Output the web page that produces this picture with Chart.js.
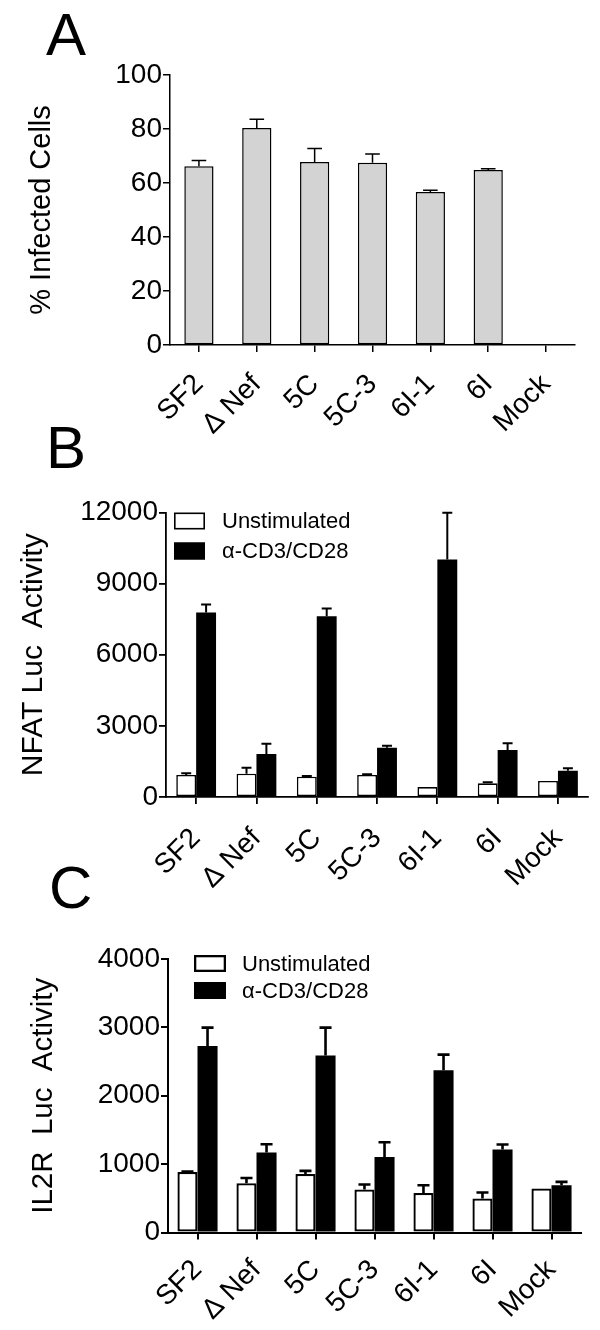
<!DOCTYPE html>
<html>
<head>
<meta charset="utf-8">
<script src="https://cdn.jsdelivr.net/npm/chart.js@4.4.1/dist/chart.umd.min.js"></script>
<style>
  html, body { margin: 0; padding: 0; background: #fff; }
  #wrap { position: relative; width: 600px; height: 1330px; overflow: hidden; }
  canvas { position: absolute; left: 0; }
  .letter { position: absolute; font-family: 'Liberation Sans', Arial, sans-serif; font-size: 60px; line-height: 60px; color: #000; }
</style>
</head>
<body>
<div id="wrap">
  <canvas id="cA" width="600" height="455" style="top:0px"></canvas>
  <canvas id="cB" width="600" height="465" style="top:440px"></canvas>
  <canvas id="cC" width="600" height="450" style="top:880px"></canvas>
  <div class="letter" style="left:46px;top:5px">A</div>
  <div class="letter" style="left:46px;top:418px">B</div>
  <div class="letter" style="left:49px;top:858px">C</div>
</div>
<script>
// ---------------- DATA ----------------
const categories = ['SF2', '\u0394 Nef', '5C', '5C-3', '6I-1', '6I', 'Mock'];

const infectedMean = [66.2, 80.4, 67.8, 67.5, 56.7, 64.8, 0.4];
const infectedErr  = [2.1, 3.2, 5.0, 3.2, 0.6, 0.5, 0];

const seriesLabels = ['Unstimulated', '\u03B1-CD3/CD28'];

const nfatUnstim    = [927, 983, 856, 927, 420, 577, 674];
const nfatUnstimErr = [73, 252, 30, 28, 0, 42, 0];
const nfatStim      = [7785, 1812, 7629, 2079, 10019, 1981, 1108];
const nfatStimErr   = [337, 435, 324, 85, 1966, 282, 101];

const il2rUnstim    = [886, 721, 857, 629, 579, 497, 643];
const il2rUnstimErr = [5, 77, 44, 73, 113, 88, 0];
const il2rStim      = [2728, 1170, 2588, 1105, 2373, 1213, 692];
const il2rStimErr   = [269, 121, 409, 215, 229, 74, 48];

const yTicksA = [0, 20, 40, 60, 80, 100];
const yTicksB = [0, 3000, 6000, 9000, 12000];
const yTicksC = [0, 1000, 2000, 3000, 4000];

const titleA = '% Infected Cells';
const titleB = 'NFAT Luc  Activity';
const titleC = 'IL2R  Luc  Activity';

// ---------------- SETUP ----------------
const FONT = "'Liberation Sans', Arial, sans-serif";
Chart.defaults.font.family = FONT;
Chart.defaults.color = '#000';
Chart.defaults.animation = false;

const errorBars = {
  id: 'errorBars',
  afterDatasetsDraw(chart, args, opts) {
    const ctx = chart.ctx;
    const ys = chart.scales.y;
    chart.data.datasets.forEach((ds, di) => {
      if (!ds.errors) return;
      const meta = chart.getDatasetMeta(di);
      meta.data.forEach((bar, i) => {
        const e = ds.errors[i];
        if (!e) return;
        const yt = ys.getPixelForValue(ds.data[i] + e);
        const w = bar.width * opts.capRatio;
        ctx.save();
        ctx.strokeStyle = '#000';
        ctx.lineWidth = opts.lineWidth;
        ctx.lineCap = 'butt';
        ctx.beginPath();
        ctx.moveTo(bar.x, bar.y);
        ctx.lineTo(bar.x, yt);
        ctx.moveTo(bar.x - w / 2, yt);
        ctx.lineTo(bar.x + w / 2, yt);
        ctx.stroke();
        ctx.restore();
      });
    });
  }
};

const boxLegend = {
  id: 'boxLegend',
  afterDraw(chart, args, o) {
    if (!o || !o.show) return;
    const ctx = chart.ctx;
    const a = chart.chartArea;
    chart.data.datasets.forEach((ds, i) => {
      const bx = a.left + o.dx;
      const by = a.top + o.dy + i * o.rowGap;
      ctx.save();
      ctx.fillStyle = ds.backgroundColor;
      ctx.fillRect(bx, by, o.boxW, o.boxH);
      ctx.strokeStyle = '#000';
      ctx.lineWidth = o.lineWidth;
      ctx.strokeRect(bx + o.lineWidth / 2, by + o.lineWidth / 2, o.boxW - o.lineWidth, o.boxH - o.lineWidth);
      ctx.fillStyle = '#000';
      ctx.font = o.fontSize + 'px ' + FONT;
      ctx.textBaseline = 'middle';
      ctx.textAlign = 'left';
      ctx.fillText(ds.label, bx + o.boxW + o.textGap, by + o.boxH / 2 + 1);
      ctx.restore();
    });
  }
};

function makeChart(id, cfg) {
  return new Chart(document.getElementById(id), {
    type: 'bar',
    data: { labels: categories, datasets: cfg.datasets },
    plugins: [errorBars, boxLegend],
    options: {
      responsive: false,
      animation: false,
      layout: { padding: { left: 0, top: cfg.top, right: cfg.right, bottom: 0 } },
      plugins: {
        legend: { display: false },
        tooltip: { enabled: false },
        errorBars: cfg.err,
        boxLegend: cfg.legend || { show: false }
      },
      scales: {
        x: {
          grid: { display: true, drawOnChartArea: false, drawTicks: true, tickLength: 7, color: '#000', lineWidth: cfg.axisW, offset: false },
          border: { display: true, color: '#000', width: cfg.axisW },
          ticks: { font: { size: 28 }, maxRotation: 45, minRotation: 45, padding: cfg.xPad, autoSkip: false, color: '#000' },
          afterFit: s => { s.height = cfg.xHeight; }
        },
        y: {
          min: cfg.yTicks[0],
          max: cfg.yTicks[cfg.yTicks.length - 1],
          afterBuildTicks: s => { s.ticks = cfg.yTicks.map(v => ({ value: v })); },
          grid: { display: true, drawOnChartArea: false, drawTicks: true, tickLength: 7, color: '#000', lineWidth: cfg.axisW },
          border: { display: true, color: '#000', width: cfg.axisW },
          ticks: { font: { size: 28 }, padding: 1, color: '#000', callback: v => String(v) },
          title: { display: true, text: cfg.title, font: { size: cfg.titleSize }, color: '#000', padding: { top: cfg.titlePad, bottom: 0 } },
          afterFit: s => { s.width = cfg.yWidth; }
        }
      }
    }
  });
}

// Panel A  (canvas 0..455, chart area 75..345)
makeChart('cA', {
  datasets: [{
    label: titleA,
    data: infectedMean,
    errors: infectedErr,
    backgroundColor: '#d3d3d3',
    borderColor: '#000',
    borderWidth: 1.5,
    borderSkipped: false,
    categoryPercentage: 1,
    barPercentage: 0.505
  }],
  yTicks: yTicksA, title: titleA, titleSize: 29, titlePad: 25,
  top: 75, right: 25, yWidth: 170, xHeight: 110, xPad: 16, axisW: 1.5,
  err: { capRatio: 0.5, lineWidth: 1.5 }
});

// Panel B  (canvas 440..905, chart area 512.5..797)
makeChart('cB', {
  datasets: [{
    label: seriesLabels[0], data: nfatUnstim, errors: nfatUnstimErr,
    backgroundColor: '#ffffff', borderColor: '#000', borderWidth: 1.6, borderSkipped: false,
    categoryPercentage: 0.66, barPercentage: 1
  }, {
    label: seriesLabels[1], data: nfatStim, errors: nfatStimErr,
    backgroundColor: '#000000', borderColor: '#000', borderWidth: 0, borderSkipped: false,
    categoryPercentage: 0.66, barPercentage: 1
  }],
  yTicks: yTicksB, title: titleB, titleSize: 30, titlePad: 16,
  top: 72.5, right: 4, yWidth: 166, xHeight: 108, xPad: 18, axisW: 1.8,
  err: { capRatio: 0.5, lineWidth: 2 },
  legend: { show: true, dx: 8, dy: 0, boxW: 31, boxH: 17, rowGap: 30, textGap: 17, fontSize: 22, lineWidth: 1.6 }
});

// Panel C  (canvas 880..1330, chart area 959..1232.5)
makeChart('cC', {
  datasets: [{
    label: seriesLabels[0], data: il2rUnstim, errors: il2rUnstimErr,
    backgroundColor: '#ffffff', borderColor: '#000', borderWidth: 2.3, borderSkipped: false,
    categoryPercentage: 0.68, barPercentage: 1
  }, {
    label: seriesLabels[1], data: il2rStim, errors: il2rStimErr,
    backgroundColor: '#000000', borderColor: '#000', borderWidth: 0, borderSkipped: false,
    categoryPercentage: 0.68, barPercentage: 1
  }],
  yTicks: yTicksC, title: titleC, titleSize: 29.5, titlePad: 26,
  top: 79, right: 19, yWidth: 168, xHeight: 97.5, xPad: 14, axisW: 2,
  err: { capRatio: 0.6, lineWidth: 2.6 },
  legend: { show: true, dx: 26, dy: -4, boxW: 32, boxH: 17, rowGap: 27, textGap: 16, fontSize: 22, lineWidth: 2.3 }
});
</script>
</body>
</html>
